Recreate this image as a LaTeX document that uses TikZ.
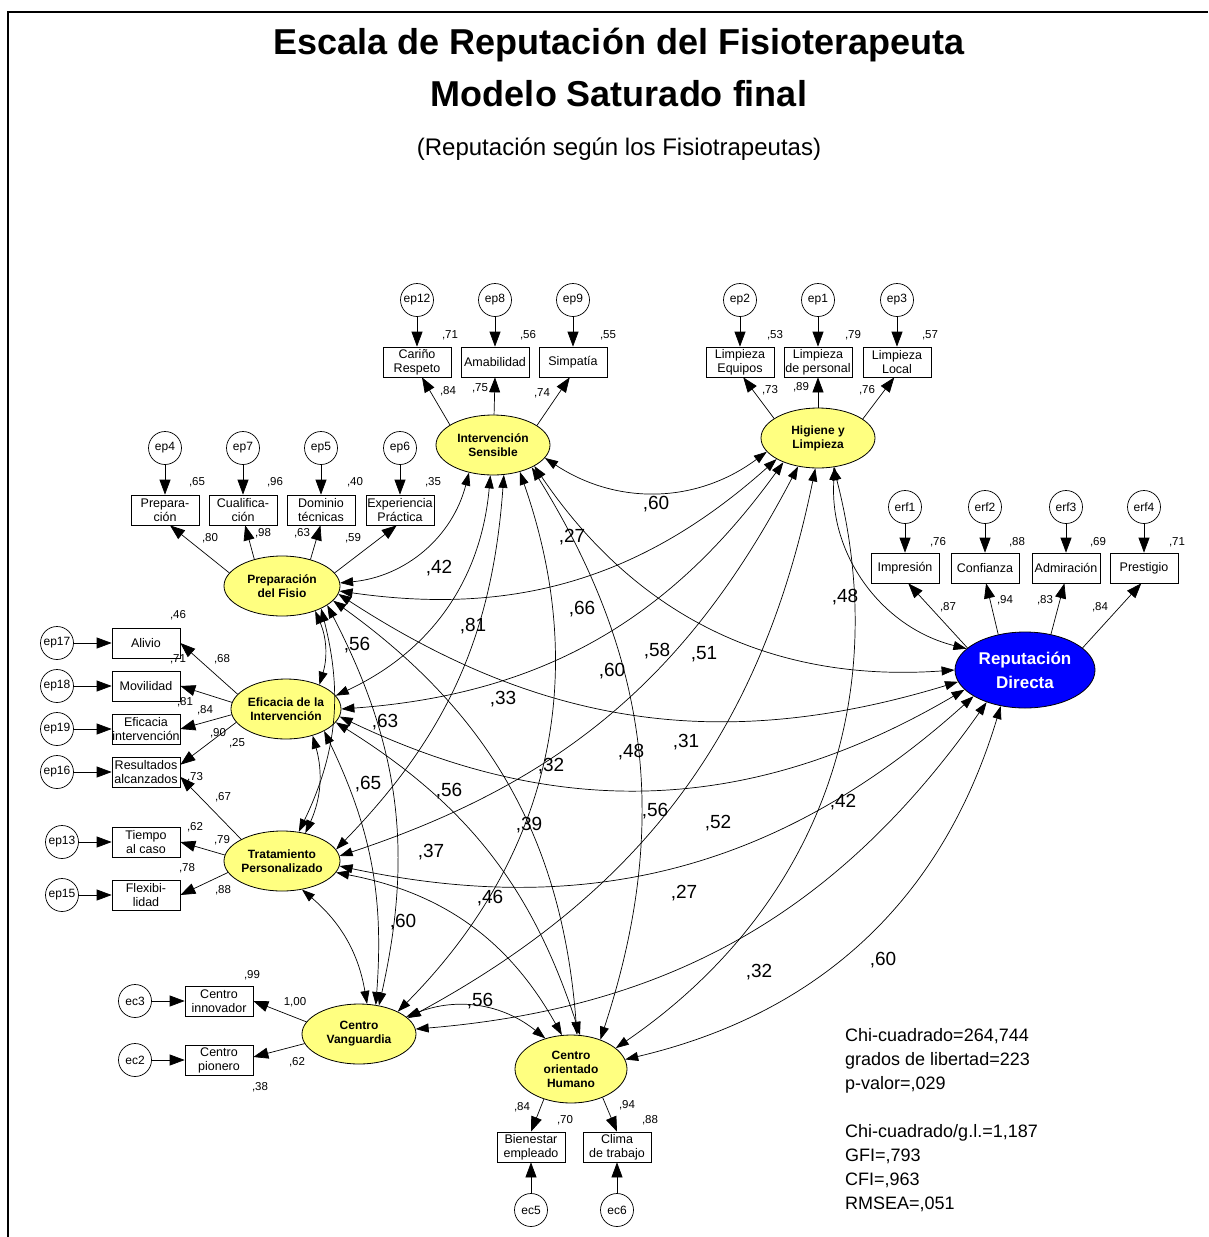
\documentclass[tikz,border=0pt]{standalone}
\usepackage{fontspec}
\setmainfont{Liberation Sans}
\usetikzlibrary{shapes.geometric,arrows.meta}
\definecolor{latfill}{RGB}{255,255,128}
\definecolor{repblue}{RGB}{0,0,255}
\begin{document}
\begin{tikzpicture}[x=1pt,y=1pt,
  lat/.style={ellipse,draw,line width=0.8pt,fill=latfill,align=center,inner sep=0pt,
    minimum width=114pt,minimum height=60pt,font=\bfseries\fontsize{12}{14}\selectfont},
  obs/.style={rectangle,draw,line width=0.7pt,minimum width=68pt,minimum height=30pt,inner sep=0pt,
    align=center,font=\fontsize{12.5}{14}\selectfont},
  err/.style={circle,draw,line width=0.7pt,minimum size=33pt,inner sep=0pt,font=\fontsize{12}{14}\selectfont},
  ld/.style={-{Triangle[length=15pt,width=11pt]},line width=0.7pt},
  cov/.style={{Triangle[length=13pt,width=9pt]}-{Triangle[length=13pt,width=9pt]},line width=0.7pt},
  coef/.style={inner sep=0pt,font=\fontsize{11.5}{13}\selectfont},
  cval/.style={inner sep=0pt,font=\fontsize{19}{21}\selectfont}]
\useasboundingbox (0,0) rectangle (1208,-1237);
\fill[white] (0,0) rectangle (1208,-1237);
% page frame
\draw[line width=1.8pt] (8,-1237) -- (8,-12) -- (1208,-12);

% titles
\node[font=\bfseries\fontsize{36}{40}\selectfont] (t1) at (619,-45) {Escala de Reputación del Fisioterapeuta};
\node[font=\bfseries\fontsize{36}{40}\selectfont] (t2) at (619,-94) {Modelo Saturado final};
\node[font=\fontsize{24}{28}\selectfont] (t3) at (619,-149) {(Reputación según los Fisiotrapeutas)};

% latent factors
\node[lat] (IS) at (493,-445) {Intervención\\Sensible};
\node[lat] (HL) at (818,-438) {Higiene y\\Limpieza};
\node[lat,minimum width=116pt] (PF) at (282,-586) {Preparación\\del Fisio};
\node[lat,minimum width=110pt] (EI) at (286,-709) {Eficacia de la\\Intervención};
\node[lat,minimum width=116pt] (TP) at (282,-861) {Tratamiento\\Personalizado};
\node[lat] (CV) at (359,-1034) {Centro\\Vanguardia};
\node[lat,minimum width=112pt,minimum height=68pt] (CH) at (571,-1069) {Centro\\orientado\\Humano};
\node[lat,fill=repblue,text=white,minimum width=140pt,minimum height=76pt,
  font=\bfseries\fontsize{17}{24}\selectfont] (RD) at (1025,-670) {Reputación\\Directa};

% Intervencion Sensible
\node[err] (e12) at (417,-300) {ep12};
\node[err] (e8) at (495,-300) {ep8};
\node[err] (e9) at (573,-300) {ep9};
\node[obs] (o12) at (417,-362) {Cariño\\Respeto};
\node[obs] (o8) at (495,-362) {Amabilidad};
\node[obs] (o9) at (573,-362) {Simpatía};
\foreach \e/\o in {e12/o12,e8/o8,e9/o9} \draw[ld] (\e) -- (\o);
\draw[ld] (IS.155) -- (o12.-72);
\draw[ld] (IS.88) -- (o8.south);
\draw[ld] (IS.24) -- (o9.-102);

% Higiene y Limpieza
\node[err] (e2) at (740,-300) {ep2};
\node[err] (e1) at (818,-300) {ep1};
\node[err] (e3) at (897,-300) {ep3};
\node[obs] (o2) at (740,-362) {Limpieza\\Equipos};
\node[obs] (o1) at (818,-362) {Limpieza\\de personal};
\node[obs] (o3) at (897,-362) {Limpieza\\Local};
\foreach \e/\o in {e2/o2,e1/o1,e3/o3} \draw[ld] (\e) -- (\o);
\draw[ld] (HL.156) -- (o2.-78);
\draw[ld] (HL.north) -- (o1.south);
\draw[ld] (HL.23) -- (o3.-100);

% Preparacion del Fisio
\node[err] (e4) at (165,-448) {ep4};
\node[err] (e7) at (243,-448) {ep7};
\node[err] (e5) at (321,-448) {ep5};
\node[err] (e6) at (400,-448) {ep6};
\node[obs] (o4) at (165,-510) {Prepara-\\ción};
\node[obs] (o7) at (243,-510) {Cualifica-\\ción};
\node[obs] (o5) at (321,-510) {Dominio\\técnicas};
\node[obs] (o6) at (400,-510) {Experiencia\\Práctica};
\foreach \e/\o in {e4/o4,e7/o7,e5/o5,e6/o6} \draw[ld] (\e) -- (\o);
\draw[ld] (PF.166) -- (o4.-72);
\draw[ld] (PF.136) -- (o7.-82);
\draw[ld] (PF.43) -- (o5.-92);
\draw[ld] (PF.14) -- (o6.-102);

% Eficacia de la Intervencion
\node[err] (e17) at (57,-643) {ep17};
\node[err] (e18) at (57,-686) {ep18};
\node[err] (e19) at (57,-729) {ep19};
\node[err] (e16) at (57,-772) {ep16};
\node[obs] (o17) at (146,-643) {Alivio};
\node[obs] (o18) at (146,-686) {Movilidad};
\node[obs] (o19) at (146,-729) {Eficacia\\intervención};
\node[obs] (o16) at (146,-772) {Resultados\\alcanzados};
\foreach \e/\o in {e17/o17,e18/o18,e19/o19,e16/o16} \draw[ld] (\e) -- (\o);
\draw[ld] (EI.163) -- (o17.east);
\draw[ld] (EI.173) -- (o18.east);
\draw[ld] (EI.186) -- (o19.east);
\draw[ld] (EI.195) -- (o16.12);

% Tratamiento Personalizado
\node[err] (e13) at (62,-842) {ep13};
\node[err] (e15) at (62,-895) {ep15};
\node[obs] (o13) at (146,-842) {Tiempo\\al caso};
\node[obs] (o15) at (146,-895) {Flexibi-\\lidad};
\foreach \e/\o in {e13/o13,e15/o15} \draw[ld] (\e) -- (\o);
\draw[ld] (TP.152) -- (o16.-8);
\draw[ld] (TP.174) -- (o13.east);
\draw[ld] (TP.192) -- (o15.east);

% Centro Vanguardia
\node[err] (c3) at (135,-1001) {ec3};
\node[err] (c2) at (135,-1060) {ec2};
\node[obs] (q3) at (219,-1001) {Centro\\innovador};
\node[obs] (q2) at (219,-1060) {Centro\\pionero};
\foreach \e/\o in {c3/q3,c2/q2} \draw[ld] (\e) -- (\o);
\draw[ld] (CV.167) -- (q3.east);
\draw[ld] (CV.190) -- (q2.5);

% Centro orientado Humano
\node[obs] (q5) at (531,-1147) {Bienestar\\empleado};
\node[obs] (q6) at (617,-1147) {Clima\\de trabajo};
\node[err] (c5) at (531,-1210) {ec5};
\node[err] (c6) at (617,-1210) {ec6};
\foreach \e/\o in {c5/q5,c6/q6} \draw[ld] (\e) -- (\o);
\draw[ld] (CH.228) -- (q5.north);
\draw[ld] (CH.-42) -- (q6.north);

% Reputacion Directa
\node[err] (r1) at (905,-507) {erf1};
\node[err] (r2) at (985,-507) {erf2};
\node[err] (r3) at (1066,-507) {erf3};
\node[err] (r4) at (1144,-507) {erf4};
\node[obs] (s1) at (905,-568) {Impresión};
\node[obs] (s2) at (985,-568) {Confianza};
\node[obs] (s3) at (1066,-568) {Admiración};
\node[obs] (s4) at (1144,-568) {Prestigio};
\foreach \e/\o in {r1/s1,r2/s2,r3/s3,r4/s4} \draw[ld] (\e) -- (\o);
\draw[ld] (RD.159) -- (s1.-78);
\draw[ld] (RD.127) -- (s2.-86);
\draw[ld] (RD.54) -- (s3.-96);
\draw[ld] (RD.21) -- (s4.-100);

% squared multiple correlations and loadings
\foreach \x/\y/\t in {450/335/{,71},528/335/{,56},608/335/{,55},448/391/{,84},480/388/{,75},542/393/{,74},
  775/335/{,53},853/335/{,79},930/335/{,57},770/390/{,73},801/387/{,89},867/390/{,76},
  197/482/{,65},275/482/{,96},355/482/{,40},433/482/{,35},210/538/{,80},263/533/{,98},302/533/{,63},353/538/{,59},
  178/615/{,46},178/659/{,71},222/659/{,68},185/702/{,81},205/710/{,84},218/733/{,90},237/743/{,25},195/777/{,73},223/797/{,67},
  195/827/{,62},222/840/{,79},187/868/{,78},223/890/{,88},
  252/975/{,99},295/1002/{1,00},297/1062/{,62},260/1087/{,38},
  522/1107/{,84},565/1120/{,70},627/1105/{,94},650/1120/{,88},
  938/542/{,76},1017/542/{,88},1098/542/{,69},1177/542/{,71},948/607/{,87},1005/600/{,94},1045/600/{,83},1100/607/{,84}}
  \node[coef] at (\x,-\y) {\t};

% factor covariances
\draw[cov] (IS.-14) to[bend right=35] (HL.-165);
\draw[cov] (IS.-131) to[bend left=35] (PF.3);
\draw[cov] (IS.-95) to[bend left=30] (EI.15);
\draw[cov] (IS.-70) to[bend left=20] (TP.12);
\draw[cov] (IS.-45) to[bend left=32] (CV.30);
\draw[cov] (IS.-30) to[bend left=25] (CH.45);
\draw[cov] (IS.-27) to[bend right=30] (RD.180);
\draw[cov] (HL.-153) to[bend left=25] (PF.-5);
\draw[cov] (HL.-145) to[bend left=25] (EI.0);
\draw[cov] (HL.-125) to[bend left=22] (TP.5);
\draw[cov] (HL.-95) to[bend left=25] (CV.18);
\draw[cov] (HL.-62) to[bend left=35] (CH.25);
\draw[cov] (HL.-60) to[bend right=40] (RD.160);
\draw[cov] (PF.-37) to[bend left=20] (EI.36);
\draw[cov] (PF.-30) to[bend left=20] (TP.60);
\draw[cov] (PF.-23) to[bend left=20] (CV.55);
\draw[cov] (PF.-16) to[bend left=25] (CH.80);
\draw[cov] (PF.-8) to[bend right=25] (RD.190);
\draw[cov] (EI.-45) to[bend left=20] (TP.50);
\draw[cov] (EI.-30) to[bend left=15] (CV.60);
\draw[cov] (EI.-15) to[bend left=20] (CH.75);
\draw[cov] (EI.-8) to[bend right=28] (RD.198);
\draw[cov] (TP.-55) to[bend left=20] (CV.75);
\draw[cov] (TP.-12) to[bend left=25] (CH.105);
\draw[cov] (TP.-5) to[bend right=27] (RD.207);
\draw[cov] (CV.20) to[bend left=30] (CH.130);
\draw[cov] (CV.5) to[bend right=25] (RD.220);
\draw[cov] (CH.10) to[bend right=30] (RD.236);

\foreach \x/\y/\t in {656/504/{,60},572/537/{,27},439/568/{,42},473/626/{,81},582/609/{,66},845/597/{,48},
  357/645/{,56},657/651/{,58},704/654/{,51},612/671/{,60},503/699/{,33},385/722/{,63},686/742/{,31},
  631/752/{,48},551/766/{,32},368/784/{,65},449/791/{,56},655/811/{,56},529/825/{,39},718/823/{,52},
  843/802/{,42},431/852/{,37},684/893/{,27},490/898/{,46},403/922/{,60},480/1001/{,56},759/972/{,32},883/960/{,60}}
  \node[cval] at (\x,-\y) {\t};

% fit statistics
\node[anchor=north west,align=left,inner sep=0pt,font=\fontsize{18}{24}\selectfont] (fit) at (845,-1028)
  {Chi-cuadrado=264,744\\grados de libertad=223\\p-valor=,029\\[24pt]Chi-cuadrado/g.l.=1,187\\GFI=,793\\CFI=,963\\RMSEA=,051};
\end{tikzpicture}
\end{document}
